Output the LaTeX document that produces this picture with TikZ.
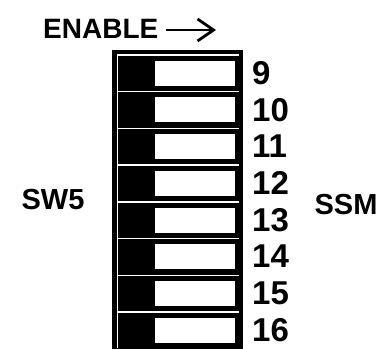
\documentclass[tikz,border=0pt]{standalone}
\usepackage{fontspec}
\setmainfont{Liberation Sans}
\usepackage{tikz}
\usetikzlibrary{arrows.meta}

\tikzset{
	lbl/.style={font=\fontsize{29}{31}\selectfont\bfseries, inner sep=0pt},
	numlbl/.style={font=\fontsize{33}{35}\selectfont\bfseries, inner sep=0pt, anchor=west},
	slider/.style={fill=white, draw=black, line width=0.6pt},
	sep/.style={white, line width=1.4pt},
	enablearrow/.style={black, line width=2.8pt, -{Straight Barb[length=16pt,width=22pt]}}
}

\begin{document}
\begin{tikzpicture}[x=1pt, y=-1pt]

		\useasboundingbox (0,0) rectangle (379,348);

		% switch body
		\fill[black] (112,50) rectangle (243,350);
		\draw[white, line width=1pt] (117,55) -- (117,348);

		\foreach \i [evaluate=\i as \y using 55+36.7*(\i-9)] in {9,...,16} {
			\draw[sep] (117,\y) -- (239,\y);
			\draw[slider] (154,\y+5) rectangle (235,\y+31);
			\node (n\i) [at={(252,\y+18)}, numlbl] {\i};
		}

		\node (enable) [at={(43,29)}, lbl, anchor=west, font=\fontsize{28}{30}\selectfont\bfseries] {ENABLE};
		\coordinate (arrowtail) at (166,30);
		\coordinate (arrowtip) at (216,30);
		\draw[enablearrow] (arrowtail) -- (arrowtip);

		\node (sw5) [at={(53,200)}, lbl] {SW5};
		\node (ssm) [at={(346,205)}, lbl] {SSM};

	\end{tikzpicture}
\end{document}
